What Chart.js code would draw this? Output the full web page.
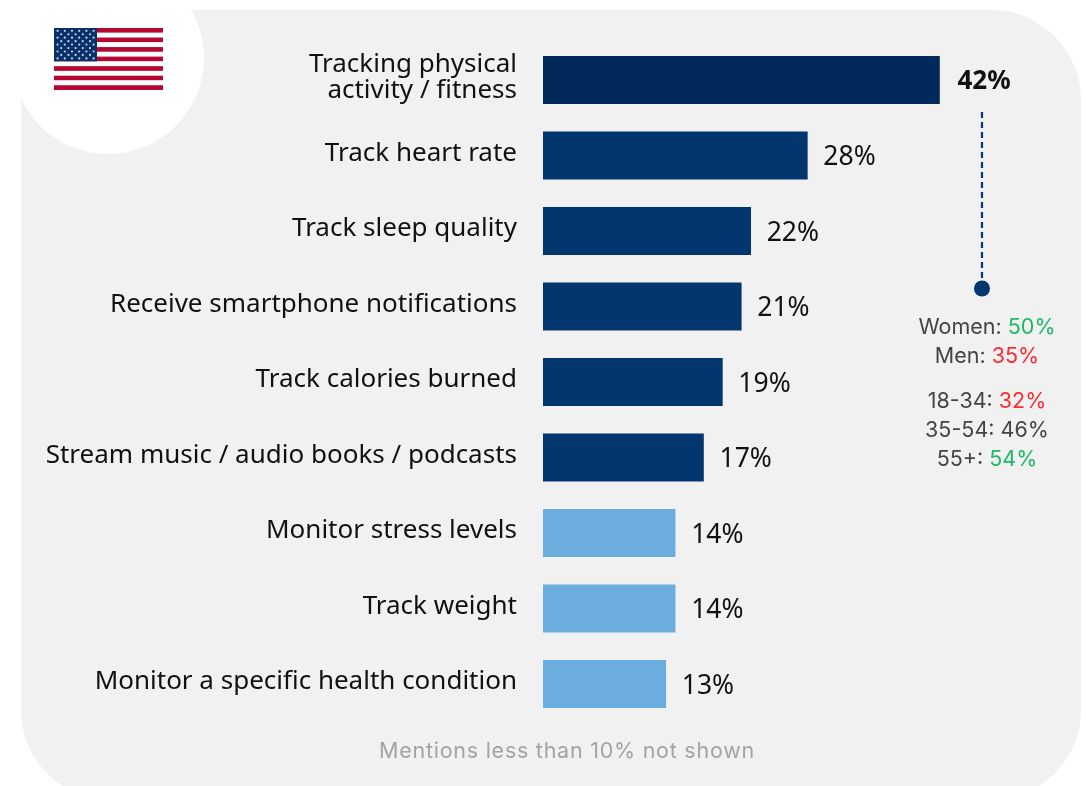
<!DOCTYPE html>
<html>
<head>
<meta charset="utf-8">
<script src="https://cdn.jsdelivr.net/npm/chart.js@4"></script>
<style>
    html, body { margin: 0; background: #fff; overflow: hidden; }
    #page { position: relative; width: 1086px; height: 786px; overflow: hidden; font-family: Inter, sans-serif; }
    #panel { position: absolute; left: 21px; top: 10px; width: 1060px; height: 790px; background: #f1f1f1; border-radius: 90px; }
    #corner { position: absolute; left: 12px; top: -38px; width: 192px; height: 192px; background: #fff; border-radius: 50%; }
    #flag { position: absolute; left: 54px; top: 28px; }
    #chart { position: absolute; left: 0; top: 0; }
    .note { position: absolute; left: 882px; width: 210px; text-align: center; font-size: 21.5px; line-height: 29px; color: #444; white-space: nowrap; }
    #footnote { position: absolute; left: 379px; top: 737px; font-size: 21.5px; letter-spacing: 0.75px; color: #a3a3a3; white-space: nowrap; }
    .up { color: #1fb866; }
    .down { color: #fb2a33; }
</style>
</head>
<body>
<div id="page">
    <div id="panel"></div>
    <div id="corner"></div>
    <svg id="flag" width="109" height="62" viewBox="0 0 109 62"></svg>
    <canvas id="chart" width="1086" height="786"></canvas>
    <div class="note" id="genderNote" style="top:312px"></div>
    <div class="note" id="ageNote" style="top:386px"></div>
    <div id="footnote">Mentions less than 10% not shown</div>
</div>
<script>
const categories = [
    ["Tracking physical", "activity / fitness"],
    ["Track heart rate"],
    ["Track sleep quality"],
    ["Receive smartphone notifications"],
    ["Track calories burned"],
    ["Stream music / audio books / podcasts"],
    ["Monitor stress levels"],
    ["Track weight"],
    ["Monitor a specific health condition"]
];
const values = [42, 28, 22, 21, 19, 17, 14, 14, 13];
const barColors = ["#03295a", "#03356f", "#03356f", "#03356f", "#03356f", "#03356f", "#6cade0", "#6cade0", "#6cade0"];

const genderLabels = ["Women", "Men"];
const genderValues = [50, 35];
const genderTones = ["up", "down"];
const ageLabels = ["18-34", "35-54", "55+"];
const ageValues = [32, 46, 54];
const ageTones = ["down", "", "up"];

// breakdown lines under the callout dot
function noteLines(labels, vals, tones) {
    return labels.map((label, i) =>
        `<div>${label}: <span class="${tones[i]}">${vals[i]}%</span></div>`).join("");
}
document.getElementById("genderNote").innerHTML = noteLines(genderLabels, genderValues, genderTones);
document.getElementById("ageNote").innerHTML = noteLines(ageLabels, ageValues, ageTones);

// small flag: stripes, canton, star dots
let flag = "";
for (let i = 0; i < 13; i++) {
    flag += `<rect x="0" y="${i * 62 / 13}" width="109" height="${62 / 13}" fill="${i % 2 ? "#fff" : "#b5072f"}"/>`;
}
flag += `<rect x="0" y="0" width="43" height="33.4" fill="#08306b"/>`;
for (let row = 0; row < 9; row++) {
    const count = row % 2 ? 5 : 6;
    for (let col = 0; col < count; col++) {
        const cx = (row % 2 ? 7.2 : 3.6) + col * 7.2;
        flag += `<circle cx="${cx}" cy="${2.8 + row * 3.45}" r="1.1" fill="#c9d3e4"/>`;
    }
}
document.getElementById("flag").innerHTML = flag;

const barText = {
    id: "barText",
    afterDatasetsDraw(chart) {
        const { ctx, scales: { x, y } } = chart;
        ctx.save();
        ctx.fillStyle = "#111";
        ctx.textBaseline = "middle";

        // category names, right aligned against the bars
        ctx.font = "26px 'Noto Sans', sans-serif";
        ctx.textAlign = "right";
        categories.forEach((lines, i) => {
            const cy = y.getPixelForValue(i);
            if (lines.length === 1) {
                ctx.fillText(lines[0], x.left - 26, cy - 2);
            } else {
                ctx.fillText(lines[0], x.left - 26, cy - 15);
                ctx.fillText(lines[1], x.left - 26, cy + 11);
            }
        });

        // value labels at the bar ends
        ctx.textAlign = "left";
        values.forEach((v, i) => {
            ctx.font = i === 0 ? "bold 26px 'Noto Sans', sans-serif" : "26.5px 'Noto Sans', sans-serif";
            const gap = i === 0 ? 18 : 16;
            ctx.fillText(v + "%", x.getPixelForValue(v) + gap, y.getPixelForValue(i) + 2);
        });

        // dashed callout from the top bar down to its dot
        const cx = x.getPixelForValue(values[0]) + 42.5;
        const top = y.getPixelForValue(0) + 32;
        const dotY = y.getPixelForValue(2) + 57.5;
        ctx.strokeStyle = "#03356f";
        ctx.lineWidth = 2.2;
        ctx.setLineDash([6, 4]);
        ctx.beginPath();
        ctx.moveTo(cx, top);
        ctx.lineTo(cx, dotY);
        ctx.stroke();
        ctx.setLineDash([]);
        ctx.fillStyle = "#03356f";
        ctx.beginPath();
        ctx.arc(cx, dotY, 8, 0, Math.PI * 2);
        ctx.fill();
        ctx.restore();
    }
};

new Chart(document.getElementById("chart").getContext("2d"), {
    type: "bar",
    data: {
        labels: categories.map(lines => lines.join(" ")),
        datasets: [{
            data: values,
            backgroundColor: barColors,
            barThickness: 47.5
        }]
    },
    options: {
        indexAxis: "y",
        responsive: false,
        animation: false,
        layout: { padding: { left: 543, right: 71, top: 42.25, bottom: 64.25 } },
        scales: {
            x: { display: false, min: 0, max: 50 },
            y: { display: false }
        },
        plugins: {
            legend: { display: false },
            tooltip: { enabled: false }
        }
    },
    plugins: [barText]
});
</script>
</body>
</html>
